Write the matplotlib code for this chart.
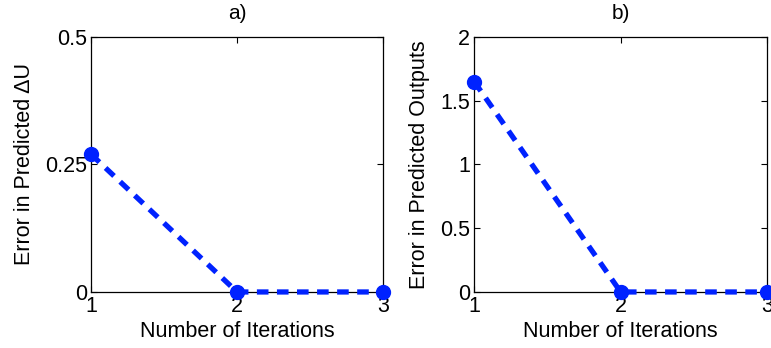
import matplotlib
matplotlib.use('Agg')
import matplotlib.pyplot as plt

plt.rcParams['font.family'] = ['Liberation Sans', 'DejaVu Sans']

# data
iterations = [1, 2, 3]
err_du = [0.27, 0.0, 0.0]
err_out = [1.65, 0.0, 0.0]
yticks_a = [0, 0.25, 0.5]
yticks_b = [0, 0.5, 1, 1.5, 2]

fig = plt.figure(figsize=(7.71, 3.48), dpi=100)
ax1 = fig.add_axes([0.118, 0.161, 0.379, 0.733])
ax2 = fig.add_axes([0.615, 0.161, 0.380, 0.733])

panels = [
    (ax1, err_du, yticks_a, ['0', '0.25', '0.5'], 'Error in Predicted \u0394U', 'a)'),
    (ax2, err_out, yticks_b, ['0', '0.5', '1', '1.5', '2'], 'Error in Predicted Outputs', 'b)'),
]

for ax, vals, yt, ytl, ylab, title in panels:
    ax.plot(iterations, vals, color='#0022ff', linestyle='--', linewidth=3.8,
            dashes=(2.2, 1.6), marker='o', markersize=10, clip_on=False, zorder=3)
    ax.set_xlim(1, 3)
    ax.set_ylim(yt[0], yt[-1])
    ax.set_xticks(iterations)
    ax.set_yticks(yt)
    ax.set_yticklabels(ytl)
    ax.tick_params(direction='in', top=True, right=True, labelsize=15.5, length=4, width=0.8, pad=3)
    ax.set_xlabel('Number of Iterations', fontsize=15.5, labelpad=3)
    ax.set_ylabel(ylab, fontsize=15.5, labelpad=7)
    ax.set_title(title, fontsize=15, pad=13)
    for s in ax.spines.values():
        s.set_linewidth(0.9)

fig.savefig('out.png', dpi=100)
